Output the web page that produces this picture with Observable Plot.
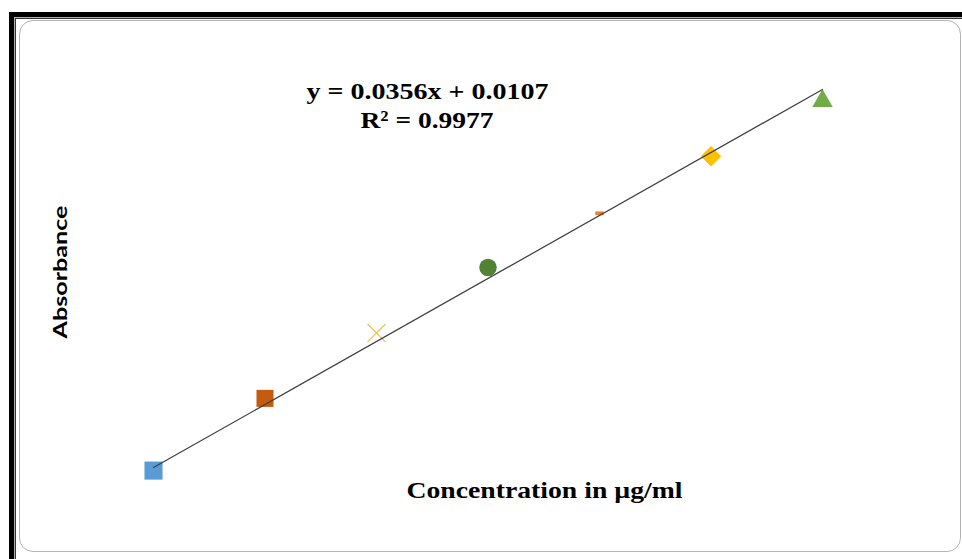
<!DOCTYPE html>
<html><head><meta charset="utf-8">
<script src="https://cdn.jsdelivr.net/npm/d3@7"></script>
<script src="https://cdn.jsdelivr.net/npm/@observablehq/plot@0.6"></script>
<style>
html,body{margin:0;padding:0;background:#fff;width:962px;height:559px;overflow:hidden;}
#wrap{position:relative;width:962px;height:559px;}
.abs{position:absolute;box-sizing:border-box;}
#chart{position:absolute;left:0;top:0;}
</style></head><body>
<div id="wrap">
 <div class="abs" style="left:9px;top:12px;right:0;bottom:0;border-left:5px solid #000;border-top:5px solid #000;"></div>
 <div class="abs" style="left:14px;top:17px;right:0;bottom:0;border-left:1px solid #b0b0b0;border-top:1px solid #b0b0b0;"></div>
 <div class="abs" style="left:15px;top:18px;right:0;bottom:0;border-left:1.3px solid #333;border-top:1.3px solid #333;"></div>
 <div class="abs" style="left:19px;top:20px;width:942px;height:532px;border:1.5px solid #b4b4b4;border-radius:14px;"></div>
 <div id="chart"></div>
</div>
<script>
// ---- data ----
const concentration = [5, 10, 15, 20, 25, 30, 35];
const absorbance = [0.180, 0.384, 0.569, 0.754, 0.907, 1.068, 1.224];
const slope = 0.0356;
const intercept = 0.0107;
const rSquared = 0.9977;
const xLabel = "Concentration in µg/ml";
const yLabel = "Absorbance";

// ---- marker styles (one per point) ----
const dashSymbol = {draw(ctx, size) {
  const w = Math.sqrt(size), h = w * 0.45;
  ctx.moveTo(-w/2, -h/2); ctx.lineTo(w/2, -h/2); ctx.lineTo(w/2, h/2); ctx.lineTo(-w/2, h/2); ctx.closePath();
}};
const markerShapes = ["square", "square", "times", "circle", dashSymbol, "diamond2", "triangle"];
const markerColors = ["#5B9BD5", "#C55A11", "#F2C14E", "#548235", "#ED7D31", "#FFC000", "#70AD47"];
const markerRadii = [10.2, 9.6, 8.2, 8.75, 4.7, 9.2, 7.6];

const points = concentration.map((c, i) => ({conc: c, abs: absorbance[i]}));
const xExt = d3.extent(concentration);
const trend = xExt.map(x => ({conc: x, abs: slope * x + intercept}));

const eq1 = `y = ${slope}x + ${intercept}`;
const eq2 = `R² = ${rSquared}`;

const dotMarks = points.map((p, i) => Plot.dot([p], {
  x: "conc", y: "abs", symbol: markerShapes[i], r: markerRadii[i],
  fill: i === 2 ? "none" : markerColors[i],
  stroke: i === 2 ? markerColors[i] : "none",
  strokeWidth: 1.2
}));

const serif = "'Liberation Serif', 'Times New Roman', serif";
const svg = Plot.plot({
  width: 962, height: 559,
  marginLeft: 41.5, marginRight: 28.5, marginTop: 38.3, marginBottom: 25.2,
  x: {domain: [0, 40], axis: null},
  y: {domain: [0, 1.4], axis: null},
  style: {background: "transparent", overflow: "visible"},
  marks: [
    ...dotMarks,
    Plot.line(trend, {x: "conc", y: "abs", stroke: "#404040", strokeWidth: 1.25}),
    Plot.text([eq1], {text: d => d, frameAnchor: "top-left", dx: 385.5, dy: 52.6, fontFamily: serif, fontWeight: "bold", fontSize: 24, fill: "#000", textAnchor: "middle", lineAnchor: "middle"}),
    Plot.text([eq2], {text: d => d, frameAnchor: "top-left", dx: 385, dy: 81.2, fontFamily: serif, fontWeight: "bold", fontSize: 24, fill: "#000", textAnchor: "middle", lineAnchor: "middle"}),
    Plot.text([xLabel], {text: d => d, frameAnchor: "top-left", dx: 502.5, dy: 451.6, fontFamily: serif, fontWeight: "bold", fontSize: 23, fill: "#000", textAnchor: "middle", lineAnchor: "middle"}),
    Plot.text([yLabel], {text: d => d, frameAnchor: "top-left", dx: 19.7, dy: 233.2, rotate: -90, fontFamily: "Lato, 'Open Sans', sans-serif", fontWeight: "bold", fontSize: 18, fill: "#000", textAnchor: "middle", lineAnchor: "middle"})
  ]
});

const lengths = new Map([[eq1, 242], [eq2, 133], [xLabel, 276], [yLabel, 133]]);
d3.select(svg).selectAll("text").each(function() {
  const L = lengths.get(this.textContent);
  if (L) d3.select(this).attr("textLength", L).attr("lengthAdjust", "spacingAndGlyphs");
});
document.getElementById("chart").appendChild(svg);
</script>
</body></html>
